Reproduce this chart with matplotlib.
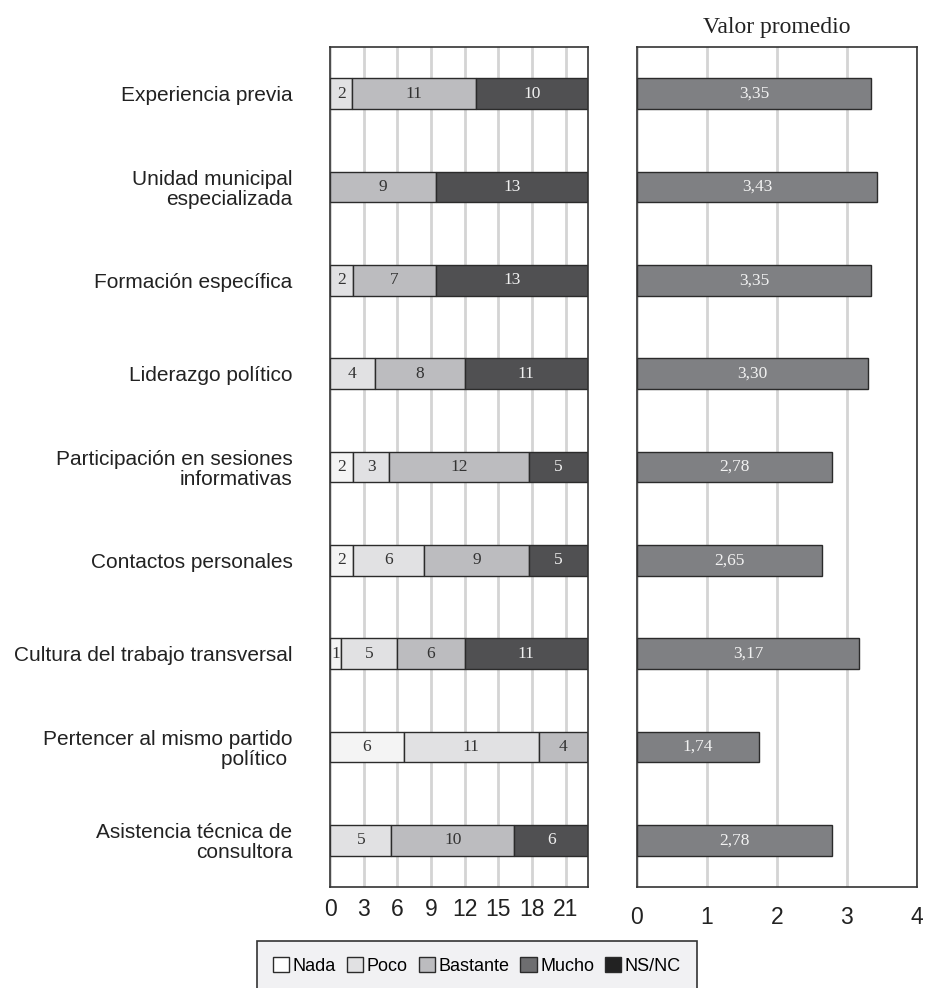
import numpy as np
import matplotlib.pyplot as plt
from matplotlib.patches import Patch

# ==============================================================================
# DATI
# ==============================================================================
categorias = [
    "Experiencia previa",
    "Unidad municipal\nespecializada",
    "Formación específica",
    "Liderazgo político",
    "Participación en sesiones\ninformativas",
    "Contactos personales",
    "Cultura del trabajo transversal",
    "Pertencer al mismo partido\npolítico ",
    "Asistencia técnica de\nconsultora",
]
niveles = ["Nada", "Poco", "Bastante", "Mucho", "NS/NC"]

nada     = [0, 0, 0, 0, 2, 2, 1, 6, 0]
poco     = [2, 0, 2, 4, 3, 6, 5, 11, 5]
bastante = [11, 9, 7, 8, 12, 9, 6, 4, 10]
mucho    = [10, 13, 13, 11, 5, 5, 11, 0, 6]
nsnc     = [0, 0, 0, 0, 0, 0, 0, 0, 0]

valor_promedio = [3.35, 3.43, 3.35, 3.30, 2.78, 2.65, 3.17, 1.74, 2.78]

x_ticks_izq = [0, 3, 6, 9, 12, 15, 18, 21]
X_MAX_IZQ = 23          # barras al 100 % dibujadas sobre esta escala
x_ticks_der = [0, 1, 2, 3, 4]

# ==============================================================================
# ESTILO
# ==============================================================================
plt.rcParams['font.family'] = ['Liberation Sans', 'DejaVu Sans']
SERIF = ['Liberation Serif', 'DejaVu Serif']

colores_barras = ['#f4f4f4', '#e1e1e3', '#bcbcbf', '#505052', '#222222']
colores_leyenda = ['#ffffff', '#e1e1e3', '#bcbcbf', '#6e6e70', '#222222']
color_texto = ['#333333', '#333333', '#333333', '#f0f0f0', '#f0f0f0']
BORDE = '#2b2b2b'
GRID = '#d4d4d4'
ALTO = 0.33

fig = plt.figure(figsize=(9.25, 9.88), dpi=100)
ax1 = fig.add_axes([0.3568, 0.1022, 0.2789, 0.8502])
ax2 = fig.add_axes([0.6886, 0.1022, 0.3027, 0.8502])

y = np.arange(len(categorias))

# --- panel izquierdo: barras apiladas al 100 % ---
series = np.array([nada, poco, bastante, mucho, nsnc], dtype=float)
totales = series.sum(axis=0)
partes = series / totales * X_MAX_IZQ
izq = np.zeros(len(categorias))
for k in range(len(niveles)):
    ax1.barh(y, partes[k], left=izq, height=ALTO, color=colores_barras[k],
             edgecolor=BORDE, linewidth=1, zorder=2)
    for i in range(len(categorias)):
        if series[k, i] > 0:
            ax1.text(izq[i] + partes[k, i] / 2, y[i], f"{int(series[k, i])}",
                     ha='center', va='center', fontsize=12.5, family=SERIF,
                     color=color_texto[k], zorder=3)
    izq += partes[k]

ax1.set_xlim(0, X_MAX_IZQ)
ax1.set_xticks(x_ticks_izq)
ax1.set_xticklabels([str(t) for t in x_ticks_izq])
ax1.set_yticks(y)
ax1.set_yticklabels(categorias, fontsize=15, color='#222222')
ax1.tick_params(axis='y', length=0, pad=27)
ax1.tick_params(axis='x', length=0, pad=8, labelsize=16.5, labelcolor='#222222')
for t in ax1.get_yticklabels():
    t.set_linespacing(1.05)

# --- panel derecho: valor promedio ---
ax2.barh(y, valor_promedio, height=ALTO, color='#7f8083', edgecolor=BORDE,
         linewidth=1, zorder=2)
for i, v in enumerate(valor_promedio):
    ax2.text(v / 2, y[i], f"{v:.2f}".replace('.', ','), ha='center', va='center',
             fontsize=12.5, family=SERIF, color='#f2f2f2', zorder=3)
ax2.set_xlim(0, 4)
ax2.set_xticks(x_ticks_der)
ax2.set_yticks([])
ax2.tick_params(axis='x', length=0, pad=14, labelsize=16.5, labelcolor='#222222')
ax2.set_title("Valor promedio", family=SERIF, fontsize=17, color='#222222', pad=10)

for ax in (ax1, ax2):
    ax.set_ylim(len(categorias) - 0.5, -0.5)
    ax.grid(axis='x', color=GRID, linewidth=2, zorder=0)
    ax.set_axisbelow(True)
    for s in ax.spines.values():
        s.set_color('#333333')
        s.set_linewidth(1.2)

# --- leyenda ---
handles = [Patch(facecolor=c, edgecolor=BORDE, linewidth=1, label=n)
           for c, n in zip(colores_leyenda, niveles)]
leg = fig.legend(handles=handles, loc='upper center', ncol=5,
                 bbox_to_anchor=(0.5157, 0.0476), fontsize=13, frameon=True,
                 fancybox=False, handlelength=0.9, handleheight=0.9,
                 handletextpad=0.2, columnspacing=0.6, borderpad=0.9,
                 borderaxespad=0)
leg.get_frame().set_facecolor('#f1f1f3')
leg.get_frame().set_edgecolor('#333333')
leg.get_frame().set_linewidth(1.2)
leg.get_frame().set_alpha(1)

fig.savefig('out.png', dpi=100)
